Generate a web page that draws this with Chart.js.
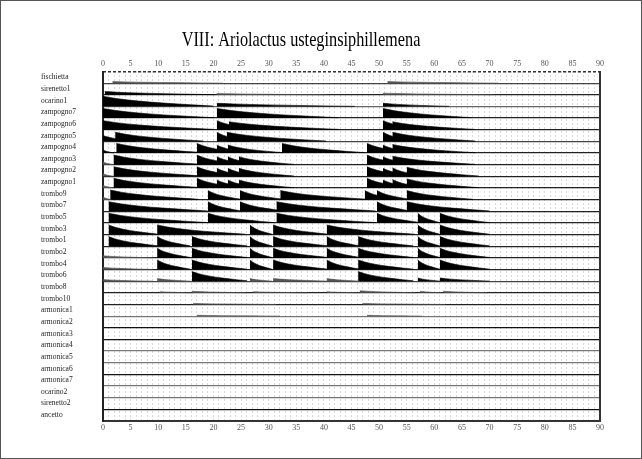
<!DOCTYPE html>
<html>
<head>
<meta charset="utf-8">
<script src="https://cdn.jsdelivr.net/npm/chart.js@4.4.0/dist/chart.umd.min.js"></script>
<style>
html,body{margin:0;padding:0;background:#fff;}
canvas{display:block;}
</style>
</head>
<body>
<canvas id="c" width="642" height="459"></canvas>
<script>
const titleText = 'VIII: Ariolactus usteginsiphillemena';
const xTicks = [0,5,10,15,20,25,30,35,40,45,50,55,60,65,70,75,80,85,90];
const rowNames = ['fischietta','sirenetto1','ocarino1','zampogno7','zampogno6','zampogno5','zampogno4','zampogno3','zampogno2','zampogno1','trombo9','trombo7','trombo5','trombo3','trombo1','trombo2','trombo4','trombo6','trombo8','trombo10','armonica1','armonica2','armonica3','armonica4','armonica5','armonica6','armonica7','ocarino2','sirenetto2','ancetto'];
// baseline line colour of each row
const rowLineColors = ['#444','#222','#666','#222','#222','#444','#222','#222','#222','#222','#222','#222','#222','#222','#222','#222','#222','#444','#222','#222','#777','#111','#111','#777','#777','#111','#777','#777','#111','#333'];
// events of each row: [onset, amplitude (fraction of row), length]
const fischietta = [[1.7,0.15,20],[51.5,0.15,20]];
const sirenetto1 = [[0.3,0.3,20],[20.6,0.12,20],[50.7,0.15,20]];
const ocarino1 = [[0,0.95,20],[20.6,0.3,25],[50.7,0.3,12]];
const zampogno7 = [[0,0.9,20],[20.6,0.9,22],[50.7,0.9,16]];
const zampogno6 = [[0,0.85,20],[20.6,0.85,8],[22.8,0.75,20],[50.7,0.85,8],[52.4,0.75,15]];
const zampogno5 = [[0,0.55,6],[2.2,0.85,16],[20.6,0.85,6],[22.4,0.85,18],[50.7,0.85,6],[52.4,0.85,15]];
const zampogno4 = [[0,0.3,2],[2.4,0.9,16],[17,0.9,8],[20.6,0.75,6],[22.6,0.75,10],[32.4,0.9,15],[47.8,0.9,8],[50.7,0.75,6],[52.4,0.8,15]];
const zampogno3 = [[0,0.25,2],[1.9,0.9,16],[17,0.9,8],[20.6,0.75,6],[22.6,0.75,6],[24.6,0.75,10],[47.8,0.9,8],[50.7,0.75,6],[52.4,0.8,15]];
const zampogno2 = [[0,0.25,2],[1.9,0.9,16],[17,0.9,8],[20.6,0.75,6],[22.6,0.75,6],[24.6,0.75,10],[47.8,0.9,8],[50.7,0.75,6],[52.4,0.8,6],[55,0.85,13]];
const zampogno1 = [[0,0.25,2],[1.9,0.9,16],[17,0.9,8],[20.6,0.75,6],[22.6,0.75,6],[24.6,0.75,10],[47.8,0.9,8],[50.7,0.75,6],[52.4,0.8,6],[55,0.85,13]];
const trombo9 = [[0,0.25,1.5],[1.3,0.9,16],[19,0.85,6],[24.8,0.85,8],[32.1,0.85,16],[47.4,0.85,6],[49.6,0.85,6],[55,0.85,12]];
const trombo7 = [[1.0,0.9,18],[19,0.9,6],[24.8,0.9,8],[31.4,0.9,18],[49.6,0.9,6],[55,0.9,15]];
const trombo5 = [[1.0,0.9,18],[19,0.9,12],[31.4,0.9,18],[49.6,0.9,8],[57,0.9,4],[61,0.9,9]];
const trombo3 = [[1.0,0.9,9],[9.8,0.9,16],[26.6,0.9,4],[30.8,0.9,10],[40.5,0.9,16],[57,0.9,4],[61,0.9,9]];
const trombo1 = [[1.0,0.9,9],[9.8,0.9,6],[16.1,0.9,10],[26.6,0.9,4],[30.8,0.9,10],[40.5,0.9,6],[46.2,0.9,10],[57,0.9,4],[61,0.9,9]];
const trombo2 = [[0,0.2,9],[9.8,0.9,6],[16.1,0.9,10],[26.6,0.9,4],[30.8,0.9,10],[40.5,0.9,6],[46.2,0.9,10],[57,0.9,4],[61,0.9,9]];
const trombo4 = [[0,0.2,9],[9.8,0.9,6],[16.1,0.9,10],[26.6,0.9,4],[30.8,0.9,10],[40.5,0.9,6],[46.2,0.9,10],[57,0.9,4],[61,0.9,9]];
const trombo6 = [[0,0.15,9],[9.8,0.25,6],[16.1,0.9,10],[26.6,0.25,4],[30.8,0.25,10],[40.5,0.25,6],[46.2,0.9,10],[57,0.3,4],[61,0.3,9]];
const trombo8 = [[10.3,0.1,6],[16.1,0.15,10],[27.2,0.1,10],[40.5,0.1,6],[46.5,0.2,10],[57.4,0.15,4],[61.6,0.15,8]];
const trombo10 = [[16.3,0.1,15],[47,0.1,15]];
const armonica1 = [[17,0.08,15],[47.8,0.08,10]];
const rowEvents = [fischietta,sirenetto1,ocarino1,zampogno7,zampogno6,zampogno5,zampogno4,zampogno3,zampogno2,zampogno1,trombo9,trombo7,trombo5,trombo3,trombo1,trombo2,trombo4,trombo6,trombo8,trombo10,armonica1,[],[],[],[],[],[],[],[],[]];

// envelope outline used to draw one event (decay profile, style only)
const decayShape = [[0,1],[0.12,0.78],[0.3,0.55],[0.55,0.33],[0.8,0.16],[1,0.04]];
const ROWFILL = 0.92;

const datasets = [];
rowEvents.forEach((evs, r) => {
  const base = r + 1;
  evs.forEach(([t0, amp, len]) => {
    datasets.push({
      type: 'line',
      data: decayShape.map(([f, a]) => ({x: t0 + f * len, y: base - amp * a * ROWFILL})),
      fill: {value: base},
      backgroundColor: amp >= 0.3 ? '#000' : '#555',
      borderColor: amp >= 0.3 ? '#000' : '#555',
      borderWidth: 0.6,
      pointRadius: 0,
      cubicInterpolationMode: 'monotone',
      xAxisID: 'x',
      yAxisID: 'y'
    });
  });
});

const serif = "'Liberation Serif', 'DejaVu Serif', serif";

const frame = {
  id: 'frame',
  afterDraw(chart) {
    const ctx = chart.ctx;
    ctx.save();
    ctx.strokeStyle = '#555';
    ctx.lineWidth = 1;
    ctx.strokeRect(0.5, 0.5, chart.width - 1, chart.height - 1);
    // title, set in a narrow serif face
    ctx.fillStyle = '#000';
    ctx.font = "22px " + serif;
    ctx.textAlign = 'center';
    ctx.textBaseline = 'middle';
    ctx.translate(301, 40);
    ctx.scale(0.74, 1);
    ctx.fillText(titleText, 0, 0);
    ctx.restore();
  }
};

new Chart(document.getElementById('c'), {
  type: 'line',
  data: {datasets},
  options: {
    responsive: false,
    devicePixelRatio: 1,
    animation: false,
    events: [],
    layout: {padding: {left: 2, right: 42, top: 52, bottom: 24}},
    plugins: {
      legend: {display: false},
      tooltip: {enabled: false},
      title: {display: false}
    },
    scales: {
      x: {
        type: 'linear', position: 'bottom', min: 0, max: 90,
        afterBuildTicks: s => { s.ticks = Array.from({length: 91}, (_, i) => ({value: i})); },
        ticks: {
          autoSkip: false, maxRotation: 0, padding: 2,
          callback: v => (xTicks.includes(v) ? String(v) : ''),
          font: {family: serif, size: 8}, color: '#555'
        },
        grid: {display: true, drawTicks: false, color: '#b0b0b0', lineWidth: 1},
        border: {display: true, color: '#333', width: 2, dash: [1, 3]},
        afterFit: s => { s.height = 14; }
      },
      x2: {
        type: 'linear', position: 'top', min: 0, max: 90,
        afterBuildTicks: s => { s.ticks = xTicks.map(v => ({value: v})); },
        ticks: {autoSkip: false, maxRotation: 0, padding: 3, font: {family: serif, size: 8}, color: '#555'},
        grid: {display: false, drawTicks: false},
        border: {display: false},
        afterFit: s => { s.height = 19.5; }
      },
      spacer: {
        type: 'linear', position: 'left', weight: 10, display: true,
        ticks: {display: false}, grid: {display: false}, border: {display: false},
        afterFit: s => { s.width = 39; }
      },
      y: {
        type: 'linear', position: 'left', reverse: true, min: 0, max: 30, weight: 1,
        afterBuildTicks: s => { s.ticks = rowNames.map((_, i) => ({value: i + 0.5})); },
        ticks: {
          autoSkip: false, crossAlign: 'far', padding: 0,
          callback: (v, i) => rowNames[i],
          font: {family: serif, size: 7.5}, color: '#222'
        },
        grid: {display: false},
        border: {display: true, color: '#222', width: 2},
        afterFit: s => { s.width = 62; }
      },
      rowLines: {
        type: 'linear', position: 'left', reverse: true, min: 0, max: 30, weight: 0,
        afterBuildTicks: s => { s.ticks = [{value: 0}].concat(rowNames.map((_, i) => ({value: i + 1}))); },
        ticks: {display: false},
        grid: {
          display: true, drawTicks: false,
          lineWidth: c => (c.index === 0 ? 1.5 : 1.3),
          color: c => (c.index === 0 ? '#333' : (rowLineColors[c.index - 1] || '#333'))
        },
        border: {display: false, dash: c => (c.index === 0 ? [3, 2] : [])},
        afterFit: s => { s.width = 0; }
      },
      right: {
        type: 'linear', position: 'right', display: true,
        ticks: {display: false}, grid: {display: false},
        border: {display: true, color: '#333', width: 2},
        afterFit: s => { s.width = 0; }
      }
    }
  },
  plugins: [frame]
});
</script>
</body>
</html>
